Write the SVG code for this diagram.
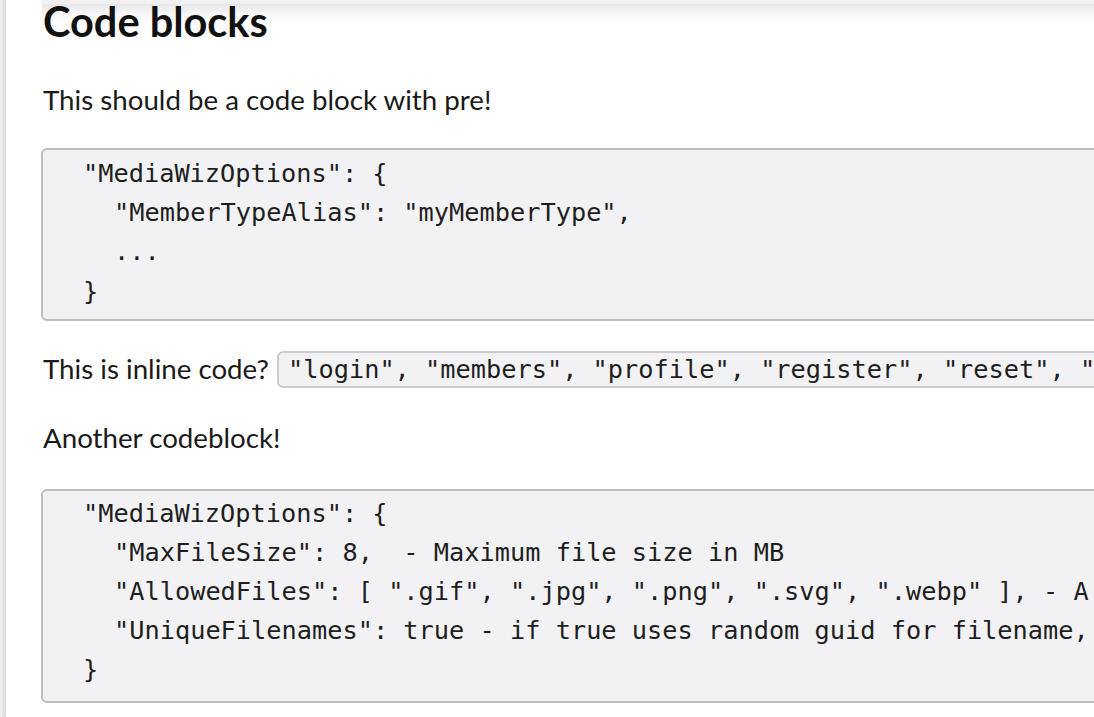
<svg xmlns="http://www.w3.org/2000/svg" width="1094" height="717" viewBox="0 0 1094 717">
<defs>
<linearGradient id="topShadow" x1="0" y1="0" x2="0" y2="1">
<stop offset="0" stop-color="#e6e6e8" stop-opacity="1"/>
<stop offset="1" stop-color="#ffffff" stop-opacity="0"/>
</linearGradient>
<linearGradient id="leftShadow" x1="0" y1="0" x2="1" y2="0">
<stop offset="0" stop-color="#f6f6f6"/>
<stop offset="0.5" stop-color="#e2e2e4"/>
<stop offset="1" stop-color="#dcdcde"/>
</linearGradient>
</defs>
<style>
.body{font-family:Lato,"Liberation Sans",sans-serif;font-size:27.7px;fill:#1a1a1a}
.h2{font-family:Lato,"Liberation Sans",sans-serif;font-size:41.5px;font-weight:bold;fill:#111}
.code{font-family:"DejaVu Sans Mono","Liberation Mono",monospace;font-size:25.3px;fill:#1e1e1e;white-space:pre}
.pre{fill:#f2f2f4;stroke:#bdbdbd;stroke-width:2}
.inl{fill:#f2f2f4;stroke:#bdbdbd;stroke-width:1.5}
</style>
<rect width="1094" height="717" fill="#ffffff"/>
<g id="chrome">
<rect x="0" y="0" width="6" height="717" fill="url(#leftShadow)"/>
<rect x="42" y="4" width="1052" height="24" fill="url(#topShadow)"/>
<rect x="42" y="0" width="1052" height="4" fill="#f0f0f2"/>
</g>
<g id="heading">
<text class="h2" x="43" y="37">Code blocks</text>
</g>
<g id="para1">
<text class="body" x="43" y="110">This should be a code block with pre!</text>
</g>
<g id="codeblock1">
<rect class="pre" x="42" y="149" width="1080" height="171" rx="5"/>
<text class="code" x="83" y="182">"MediaWizOptions": {</text>
<text class="code" x="114" y="221">"MemberTypeAlias": "myMemberType",</text>
<text class="code" x="114" y="260">...</text>
<text class="code" x="83" y="300">}</text>
</g>
<g id="para2">
<text class="body" x="43" y="379">This is inline code?</text>
<rect class="inl" x="278" y="352" width="840" height="35" rx="5"/>
<text class="code" x="288" y="378">"login", "members", "profile", "register", "reset", "</text>
</g>
<g id="para3">
<text class="body" x="43" y="448">Another codeblock!</text>
</g>
<g id="codeblock2">
<rect class="pre" x="42" y="490" width="1080" height="212" rx="5"/>
<text class="code" x="83" y="522">"MediaWizOptions": {</text>
<text class="code" x="114" y="561">"MaxFileSize": 8,  - Maximum file size in MB</text>
<text class="code" x="114" y="600">"AllowedFiles": [ ".gif", ".jpg", ".png", ".svg", ".webp" ], - A</text>
<text class="code" x="114" y="639">"UniqueFilenames": true - if true uses random guid for filename,</text>
<text class="code" x="83" y="678">}</text>
</g>
<g id="connectors"/>
</svg>
